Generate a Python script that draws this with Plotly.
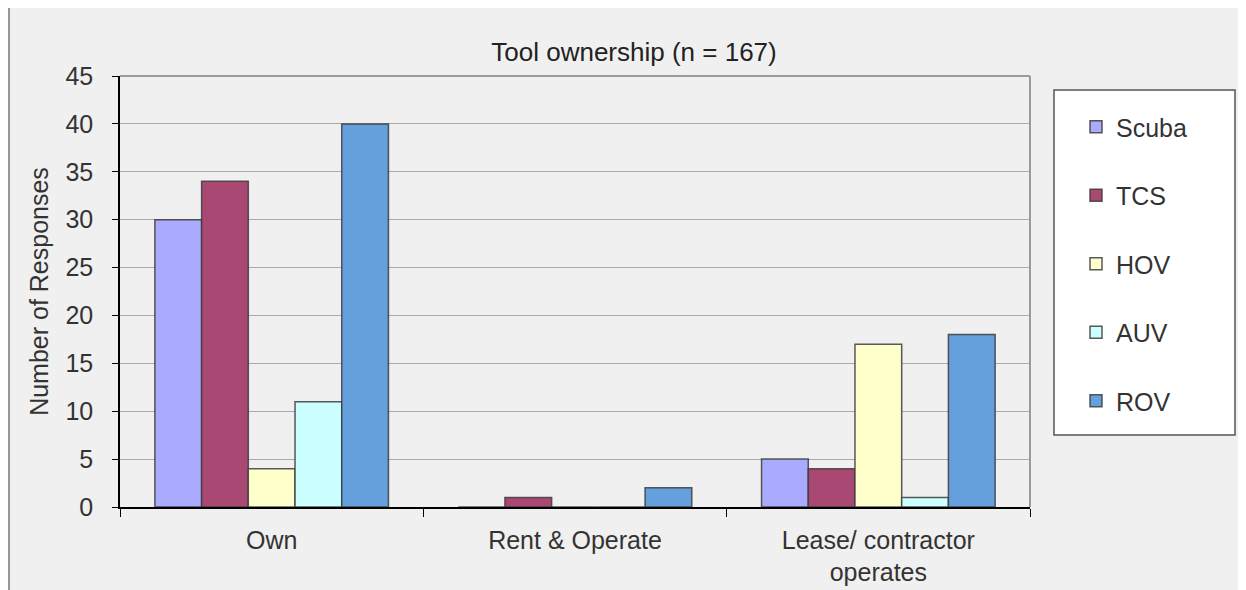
import plotly.graph_objects as go

categories = ["Own", "Rent & Operate", "Lease/ contractor<br>operates"]
series_names = ["Scuba", "TCS", "HOV", "AUV", "ROV"]
scuba = [30, 0, 5]
tcs = [34, 1, 4]
hov = [4, 0, 17]
auv = [11, 0, 1]
rov = [40, 2, 18]
colors = ["#aaaaff", "#a94873", "#ffffcc", "#ccffff", "#64a0dc"]
y_ticks = [0, 5, 10, 15, 20, 25, 30, 35, 40, 45]

FONT = "Liberation Sans, Arial, sans-serif"
OFF = 8  # page body margin
W, H = 1246 - OFF, 590 - OFF
# plot area in page pixels
PL, PR, PT, PB = 120, 1030, 76, 507
L, T = PL - OFF, PT - OFF
R, B = W - (PR - OFF), H - (PB - OFF)
PW, PH = PR - PL, PB - PT

def px_x(px):
    return (px - PL) / PW

def px_y(py):
    return (PB - py) / PH

fig = go.Figure()
for i, (name, vals) in enumerate(zip(series_names, [scuba, tcs, hov, auv, rov])):
    fig.add_trace(go.Bar(
        x=categories, y=vals, name=name,
        marker=dict(color=colors[i], line=dict(color="rgba(60,60,60,0.85)", width=1.5)),
        legendgroup=name,
    ))

shapes = [
    dict(type="rect", xref="paper", yref="paper", layer="below",
         x0=px_x(9), x1=px_x(1270), y0=px_y(640), y1=px_y(7),
         fillcolor="#f0f0f0", line=dict(color="#777", width=1.5)),
    dict(type="rect", xref="paper", yref="paper", layer="above",
         x0=px_x(1054), x1=px_x(1235), y0=px_y(435), y1=px_y(90),
         fillcolor="white", line=dict(color="#555", width=1.5)),
    dict(type="line", xref="paper", yref="paper", layer="above",
         x0=0, x1=1, y0=1, y1=1, line=dict(color="#999", width=2)),
    dict(type="line", xref="paper", yref="paper", layer="above",
         x0=1, x1=1, y0=0, y1=1, line=dict(color="#999", width=2)),
]

fig.update_layout(
    width=W, height=H,
    margin=dict(l=L, r=R, t=T, b=B, autoexpand=False),
    paper_bgcolor="white",
    plot_bgcolor="#f0f0f0",
    barmode="group",
    bargap=0.23,
    bargroupgap=0,
    font=dict(family=FONT, size=25, color="#333"),
    title=dict(text="Tool ownership (n = 167)", x=(634 - OFF) / W, xanchor="center",
               y=1 - (52 - OFF) / H, yanchor="middle",
               font=dict(family=FONT, size=26, color="#222")),
    showlegend=True,
    legend=dict(x=px_x(1076), xanchor="left", y=px_y(104), yanchor="top",
                bgcolor="rgba(0,0,0,0)", borderwidth=0,
                font=dict(family=FONT, size=25, color="#333"),
                tracegroupgap=33, traceorder="grouped"),
    shapes=shapes,
)

fig.update_xaxes(
    type="category", showline=True, linecolor="black", linewidth=1.5,
    ticks="outside", tickson="boundaries", ticklen=8, tickcolor="black",
    ticklabelstandoff=10, automargin=False,
    showgrid=False, tickfont=dict(family=FONT, size=25, color="#333"),
)
fig.update_yaxes(
    range=[0, 45], tickvals=y_ticks, showline=True, linecolor="black", linewidth=1.5,
    ticks="outside", ticklen=6, tickcolor="black", ticklabelstandoff=14,
    automargin=False,
    showgrid=True, gridcolor="#aaa", gridwidth=1, zeroline=False,
    tickfont=dict(family=FONT, size=25, color="#333"),
    title=dict(text="Number of Responses", standoff=10,
               font=dict(family=FONT, size=25, color="#333")),
)

fig.write_html("out.html")
